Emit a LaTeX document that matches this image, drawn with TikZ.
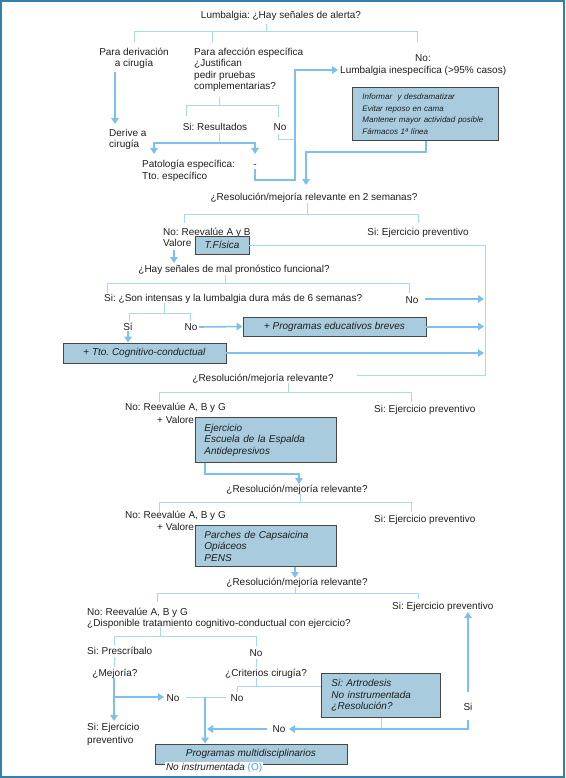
\documentclass[tikz,border=0pt]{standalone}
\usepackage{fontspec}
\setmainfont{Liberation Sans}
\usetikzlibrary{arrows.meta}
\definecolor{frameblue}{RGB}{52,128,170}
\definecolor{lineblue}{RGB}{170,215,245}
\definecolor{thickblue}{RGB}{125,192,235}
\definecolor{boxfill}{RGB}{168,204,222}
\definecolor{boxdraw}{RGB}{70,70,70}
\definecolor{oblue}{RGB}{70,160,230}
\definecolor{txtcol}{RGB}{30,30,30}
\frenchspacing
\begin{document}
\begin{tikzpicture}[x=1pt,y=-1pt,
  txt/.style={inner sep=1pt, text=txtcol, font=\fontsize{10}{11.5}\selectfont},
  box/.style={draw=boxdraw, fill=boxfill, line width=0.9pt, text=txtcol, inner ysep=2pt, font=\fontsize{10}{11.5}\selectfont},
  thinl/.style={draw=lineblue, line width=1pt},
  thickl/.style={draw=thickblue, line width=2.4pt},
  arr/.style={-{Triangle[length=6pt,width=7.5pt]}},
  arrs/.style={{Triangle[length=6pt,width=7.5pt]}-{Triangle[length=6pt,width=7.5pt]}}
]
\useasboundingbox (0,0) rectangle (565,778);
\draw[frameblue, line width=2pt] (1,1) rectangle (564,777);

% ---------- section 1
\node[txt,anchor=base] (title) at (281,18.5) {Lumbalgia: ¿Hay señales de alerta?};
\node[txt,anchor=base,align=center] (deriv) at (134,67) {Para derivación\\a cirugía};
\node[txt,anchor=base west,align=left] (afec) at (193,90) {Para afección específica\\¿Justifican\\pedir pruebas\\complementarias?};
\node[txt,anchor=base] (noA) at (423,61.5) {No:};
\node[txt,anchor=base west] (inesp) at (339,73.5) {Lumbalgia inespecífica (>95\% casos)};
\node[txt,anchor=base west,align=left] (derive) at (108,148) {Derive a\\cirugía};
\node[txt,anchor=base] (sires) at (215,130.5) {Si: Resultados};
\node[txt,anchor=base] (noB) at (280,130.5) {No};
\node[txt,anchor=base west,align=left] (pato) at (141,179) {Patología específica:\\Tto. específico};
\node[txt,anchor=base] (dash) at (255,167.5) {-};
\node[box,anchor=north west,minimum width=146pt,minimum height=53pt,text width=126pt,inner xsep=10pt,align=left,font=\fontsize{8}{11.5}\selectfont\itshape] (info) at (352,87) {Informar\ \ y desdramatizar\\Evitar reposo en cama\\Mantener mayor actividad posible\\Fármacos 1ª línea};

\draw[thinl] (266,24) -- (266,32);
\draw[thinl] (134,42) -- (134,32) -- (417,32) -- (417,42);
\draw[thinl] (212,32) -- (212,42);
\draw[thinl] (219,97) -- (219,106);
\draw[thinl] (186,116) -- (186,106) -- (278,106) -- (278,117);
\draw[thinl] (278,134) -- (278,140) -- (295,140);
\draw[thinl] (219,133) -- (219,143);
\draw[thickl,arr] (115,72) -- (115,124);
\draw[thickl,arrs] (154,154) -- (154,143) -- (255,143) -- (255,154);
\draw[thickl,arr] (255,169) -- (255,180) -- (295,180) -- (295,70) -- (338,70);
\draw[thickl,arr] (info.south -| 426,0) -- (426,152) -- (306,152) -- (306,185);

% ---------- section 2
\node[txt,anchor=base] (res2) at (314,200.5) {¿Resolución/mejoría relevante en 2 semanas?};
\node[txt,anchor=base west,align=left,font=\fontsize{10}{11}\selectfont] (noAB) at (162,246.5) {No: Reevalúe A y B\\Valore};
\node[txt,anchor=base] (siej1) at (418,235.5) {Si: Ejercicio preventivo};
\node[box,minimum width=54pt,minimum height=18pt,inner sep=0pt,font=\fontsize{10}{11.5}\selectfont\itshape] (tfis) at (222,245) {T.Física};
\node[txt,anchor=base] (hay) at (234,272.5) {¿Hay señales de mal pronóstico funcional?};
\node[txt,anchor=base west] (son) at (103,301.5) {Si: ¿Son intensas y la lumbalgia dura más de 6 semanas?};
\node[txt,anchor=base] (noC) at (412,303.5) {No};
\node[txt,anchor=base] (siD) at (128,330.5) {Sí};
\node[txt,anchor=base] (noD) at (191,330.5) {No};
\node[box,minimum width=183pt,minimum height=19pt,inner sep=0pt] (proged) at (334.5,326.5) {+ \textit{Programas educativos breves}};
\node[box,minimum width=163pt,minimum height=20pt,inner sep=0pt] (tcc) at (144.5,353) {+ \textit{Tto. Cognitivo-conductual}};
\coordinate (rl) at (484,0);

\draw[thinl] (307,203) -- (307,214);
\draw[thinl] (184,223) -- (184,214) -- (418,214) -- (418,223);
\draw[thinl] (tfis.east) -- (485,245) -- (485,375) -- (357,375);
\draw[thickl,line width=2pt,arr] (174,250) -- (174,263);
\draw[thinl] (225,275) -- (225,283);
\draw[thinl] (107,293) -- (107,283) -- (409,283) -- (409,293);
\draw[thickl,line width=2pt,arr] (425,299) -- (rl |- 0,299);
\draw[thinl] (164,303) -- (164,313);
\draw[thinl] (129,321) -- (129,313) -- (190,313) -- (190,321);
\draw[thickl,line width=1.6pt,arr] (199,327) -- (proged.west);
\draw[thickl,line width=2pt,arr] (proged.east) -- (proged.east -| rl);
\draw[thickl,arr] (128,331) -- (tcc.north -| 128,0);
\draw[thickl,line width=2pt,arr] (tcc.east) -- (tcc.east -| rl);

% ---------- section 3
\node[txt,anchor=base] (res3) at (263,381.5) {¿Resolución/mejoría relevante?};
\node[txt,anchor=base west] (noABG1) at (124,410.5) {No: Reevalúe A, B y G};
\node[txt,anchor=base west] (val1) at (156,423.5) {+ Valore};
\node[txt,anchor=base west] (siej2) at (373,412.5) {Si: Ejercicio preventivo};
\node[box,anchor=north west,minimum width=141pt,minimum height=45pt,text width=123pt,inner xsep=9pt,align=left,font=\fontsize{10}{11.5}\selectfont\itshape] (ejer) at (195,417) {Ejercicio\\Escuela de la Espalda\\Antidepresivos};
\node[txt,anchor=base] (res4) at (297,492.5) {¿Resolución/mejoría relevante?};
\node[txt,anchor=base west] (noABG2) at (124,518.5) {No: Reevalúe A, B y G};
\node[txt,anchor=base west] (val2) at (156,530.5) {+ Valore};
\node[txt,anchor=base west] (siej3) at (373,522.5) {Si: Ejercicio preventivo};
\node[box,anchor=north west,minimum width=141pt,minimum height=41pt,text width=123pt,inner xsep=9pt,align=left,font=\fontsize{10}{11.5}\selectfont\itshape] (parches) at (195,525) {Parches de Capsaicina\\Opiáceos\\PENS};

\draw[thinl] (288,383) -- (288,392);
\draw[thinl] (159,402) -- (159,392) -- (411,392) -- (411,402);
\draw[thickl,arr] (ejer.south -| 205,0) -- (205,474) -- (299,474) -- (299,484);
\draw[thinl] (300,494) -- (300,502);
\draw[thinl] (159,512) -- (159,502) -- (411,502) -- (411,512);
\draw[thickl,arr] (parches.south -| 295,0) -- (295,578);

% ---------- section 4
\node[txt,anchor=base] (res5) at (297,585.5) {¿Resolución/mejoría relevante?};
\node[txt,anchor=base west] (siej4) at (391,609.5) {Si: Ejercicio preventivo};
\node[txt,anchor=base west,align=left,font=\fontsize{10}{10.7}\selectfont] (noABG3) at (86,626.2) {No: Reevalúe A, B y G\\¿Disponible tratamiento cognitivo-conductual con ejercicio?};
\node[txt,anchor=base west] (sipres) at (86,654.5) {Si: Prescríbalo};
\node[txt,anchor=base] (noE) at (256,656.5) {No};
\node[txt,anchor=base] (mej) at (115,676.5) {¿Mejoría?};
\node[txt,anchor=base] (crit) at (266,676.5) {¿Criterios cirugía?};
\node[txt,anchor=base] (noF) at (173,701.5) {No};
\node[txt,anchor=base] (noG) at (237,701.5) {No};
\node[txt,anchor=base] (siH) at (468,710.5) {Si};
\node[txt,anchor=base] (noH) at (279,732.5) {No};
\node[txt,anchor=base west,align=left,font=\fontsize{10}{12.5}\selectfont] (siejp) at (86,743) {Si: Ejercicio\\preventivo};
\node[box,anchor=north west,minimum width=119pt,minimum height=44pt,text width=99pt,inner xsep=10pt,align=left,font=\fontsize{10}{11.5}\selectfont\itshape] (artro) at (321,673) {Si: Artrodesis\\No instrumentada\\¿Resolución?};
\node[box,minimum width=192pt,minimum height=20pt,inner sep=0pt,font=\fontsize{10}{11.5}\selectfont\itshape] (multi) at (251,754) {Programas multidisciplinarios};
\node[txt,fill=white,anchor=base west,inner sep=0.8pt] (noinst) at (165,770.5) {\textit{No instrumentada} \textcolor{oblue}{(O)}};

\draw[thinl] (295,587) -- (295,593);
\draw[thinl] (157,602) -- (157,593) -- (418,593) -- (418,599);
\draw[thinl] (160,627) -- (160,636);
\draw[thinl] (114,645) -- (114,636) -- (256,636) -- (256,646);
\draw[thinl] (114,657) -- (114,667);
\draw[thinl] (256,659) -- (256,667);
\draw[thinl] (256,678) -- (256,686);
\draw[thinl] (237,692) -- (237,686) -- (artro.west |- 0,686);
\draw[thinl] (186,697) -- (226,697);
\draw[thickl,arr] (114,678) -- (114,721);
\draw[thickl,arr] (114,697) -- (164,697);
\draw[thickl,arr] (205,697) -- (multi.north -| 205,0);
\draw[thinl] (artro.south -| 381,0) -- (381,729);
\draw[thickl,arr] (468,720) -- (468,729) -- (289,729);
\draw[thickl,arr] (267,729) -- (207,729);
\draw[thickl,arr] (468,692) -- (468,612);
\end{tikzpicture}
\end{document}
